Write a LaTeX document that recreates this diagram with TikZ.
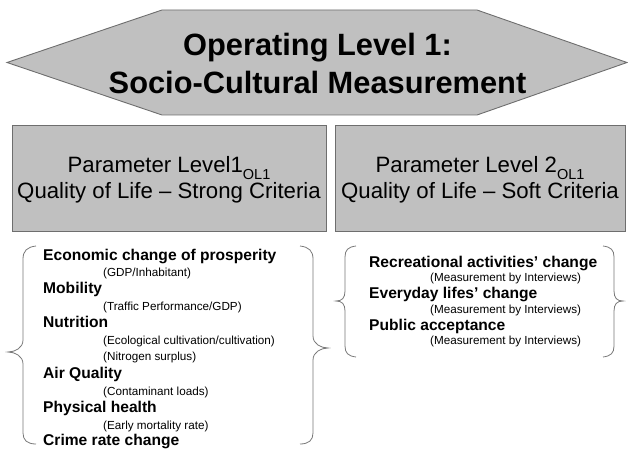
\documentclass[tikz,border=0pt]{standalone}
\usepackage{fontspec}
\setmainfont{Liberation Sans}
\definecolor{panelfill}{RGB}{192,192,192}
\definecolor{panelline}{RGB}{110,110,110}
\definecolor{braceline}{RGB}{120,120,120}
\newcommand{\olsub}{\raisebox{-0.28em}{\fontsize{14.5}{14.5}\selectfont OL1}}
\begin{document}
\begin{tikzpicture}[x=1pt,y=-1pt,
  panel/.style={draw=panelline, line width=0.9pt, fill=panelfill},
  headtext/.style={font=\bfseries\fontsize{30.8}{38}\selectfont, align=center, inner sep=0pt},
  boxtext/.style={font=\fontsize{22.2}{25.5}\selectfont, align=center, inner sep=0pt},
  itembold/.style={anchor=base west, inner sep=0pt, font=\bfseries\fontsize{15.6}{18}\selectfont},
  itemsmall/.style={anchor=base west, inner sep=0pt, font=\fontsize{11.7}{14}\selectfont},
  bracepath/.style={draw=braceline, line width=0.8pt}]
\useasboundingbox (0,0) rectangle (628,449);

% operating level banner
\draw[panel] (7,62.5) -- (162,10) -- (477,10) -- (627,62.5) -- (477,115) -- (162,115) -- cycle;
\node[headtext] (title) at (317.5,63) {Operating Level 1:\\Socio-Cultural Measurement};

% parameter level boxes
\node[panel, minimum width=314, minimum height=106, inner sep=0pt] (pl1) at (169,178) {};
\node[boxtext] (pl1text) at (169,180) {Parameter Level1\olsub\\Quality of Life -- Strong Criteria};
\node[panel, minimum width=290, minimum height=106, inner sep=0pt] (pl2) at (480,178) {};
\node[boxtext] (pl2text) at (480,180) {Parameter Level 2\olsub\\Quality of Life -- Soft Criteria};

% strong criteria list
\node[itembold]  (e1)  at (43,260)    {Economic change of prosperity};
\node[itemsmall] (e1s) at (103,276.9) {(GDP/Inhabitant)};
\node[itembold]  (e2)  at (43,293.8)  {Mobility};
\node[itemsmall] (e2s) at (103,310.7) {(Traffic Performance/GDP)};
\node[itembold]  (e3)  at (43,327.6)  {Nutrition};
\node[itemsmall] (e3s) at (103,344.5) {(Ecological cultivation/cultivation)};
\node[itemsmall] (e3t) at (103,360.4) {(Nitrogen surplus)};
\node[itembold]  (e4)  at (43,378.3)  {Air Quality};
\node[itemsmall] (e4s) at (103,395.2) {(Contaminant loads)};
\node[itembold]  (e5)  at (43,412.1)  {Physical health};
\node[itemsmall] (e5s) at (103,429)   {(Early mortality rate)};
\node[itembold]  (e6)  at (43,445.5)  {Crime rate change};

% soft criteria list
\node[itembold]  (s1)  at (369,267)   {Recreational activities’ change};
\node[itemsmall] (s1s) at (430,281.5) {(Measurement by Interviews)};
\node[itembold]  (s2)  at (369,298.5) {Everyday lifes’ change};
\node[itemsmall] (s2s) at (430,313)   {(Measurement by Interviews)};
\node[itembold]  (s3)  at (369,330)   {Public acceptance};
\node[itemsmall] (s3s) at (430,344.5) {(Measurement by Interviews)};

% braces around the strong criteria
\draw[bracepath] (36,246) .. controls (27,247) and (23,251) .. (23,259) -- (23,340)
  .. controls (23,348) and (15,352) .. (8,352)
  .. controls (15,352) and (23,356) .. (23,364) -- (23,433)
  .. controls (23,440) and (27,444) .. (36,444);
\draw[bracepath] (300,246) .. controls (309,247) and (313,251) .. (313,259) -- (313,336)
  .. controls (313,344) and (321,348) .. (328,348)
  .. controls (321,348) and (313,352) .. (313,360) -- (313,433)
  .. controls (313,440) and (309,444) .. (300,444);

% braces around the soft criteria
\draw[bracepath] (356,246) .. controls (348,247) and (345,250) .. (345,257) -- (345,291)
  .. controls (345,298) and (342,301) .. (336,301)
  .. controls (342,301) and (345,304) .. (345,311) -- (345,346)
  .. controls (345,353) and (348,356) .. (356,357);
\draw[bracepath] (603,246) .. controls (611,247) and (614,250) .. (614,257) -- (614,291)
  .. controls (614,298) and (617,301) .. (623,301)
  .. controls (617,301) and (614,304) .. (614,311) -- (614,346)
  .. controls (614,353) and (611,356) .. (603,357);
\end{tikzpicture}
\end{document}
